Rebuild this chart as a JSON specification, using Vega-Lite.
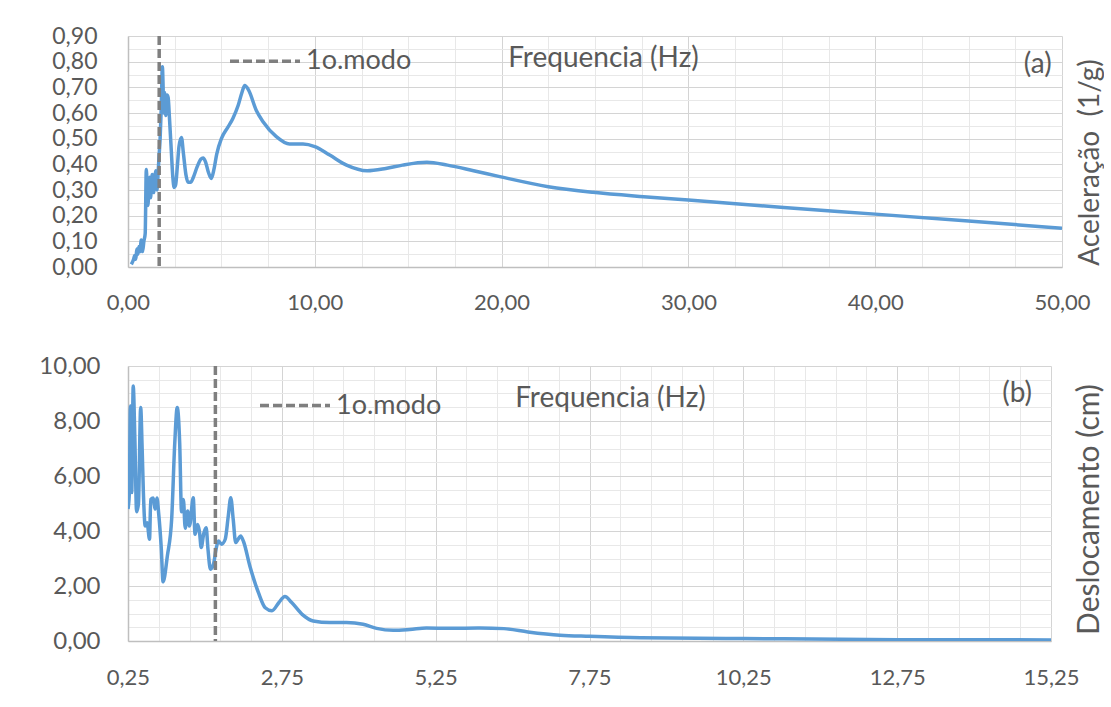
{
  "$schema": "https://vega.github.io/schema/vega-lite/v6.json",
  "background": "white",
  "padding": {"left": 0, "top": 24, "right": 0, "bottom": 0},
  "config": {
    "locale": {"number": {"decimal": ",", "thousands": ".", "grouping": [3], "currency": ["", ""]}},
    "font": "Lato",
    "view": {"stroke": null},
    "axis": {
      "labelColor": "#595959", "titleColor": "#595959", "labelFont": "Lato", "titleFont": "Lato",
      "titleFontWeight": "normal", "ticks": false, "tickSize": 0, "domainColor": "#bfbfbf", "domainWidth": 1.5,
      "gridColor": "#d4d4d4", "gridWidth": 1, "labelOverlap": false, "labelBound": false, "labelFlush": false
    },
    "legend": {"labelFont": "Lato", "labelColor": "#595959"}
  },
  "resolve": {"scale": {"strokeDash": "independent"}, "legend": {"strokeDash": "independent"}},
  "datasets": {
    "acc": [
      {"f": 0.18, "a": 0.01}, {"f": 0.30, "a": 0.03}, {"f": 0.36, "a": 0.045}, {"f": 0.42, "a": 0.03},
      {"f": 0.47, "a": 0.07}, {"f": 0.53, "a": 0.05}, {"f": 0.59, "a": 0.08}, {"f": 0.64, "a": 0.06},
      {"f": 0.71, "a": 0.105}, {"f": 0.78, "a": 0.06}, {"f": 0.85, "a": 0.10}, {"f": 0.92, "a": 0.13},
      {"f": 0.98, "a": 0.38}, {"f": 1.03, "a": 0.30}, {"f": 1.07, "a": 0.24}, {"f": 1.12, "a": 0.33},
      {"f": 1.16, "a": 0.35}, {"f": 1.21, "a": 0.27}, {"f": 1.26, "a": 0.33}, {"f": 1.30, "a": 0.36},
      {"f": 1.37, "a": 0.29}, {"f": 1.43, "a": 0.34}, {"f": 1.48, "a": 0.375}, {"f": 1.55, "a": 0.30},
      {"f": 1.60, "a": 0.35}, {"f": 1.66, "a": 0.43}, {"f": 1.72, "a": 0.50}, {"f": 1.78, "a": 0.62},
      {"f": 1.84, "a": 0.78}, {"f": 1.88, "a": 0.70}, {"f": 1.91, "a": 0.60}, {"f": 1.96, "a": 0.68},
      {"f": 2.02, "a": 0.59}, {"f": 2.09, "a": 0.67}, {"f": 2.15, "a": 0.66}, {"f": 2.22, "a": 0.58},
      {"f": 2.32, "a": 0.45}, {"f": 2.40, "a": 0.35}, {"f": 2.47, "a": 0.31}, {"f": 2.55, "a": 0.32},
      {"f": 2.65, "a": 0.40}, {"f": 2.73, "a": 0.47}, {"f": 2.86, "a": 0.505}, {"f": 2.97, "a": 0.44},
      {"f": 3.10, "a": 0.36}, {"f": 3.22, "a": 0.33}, {"f": 3.35, "a": 0.33}, {"f": 3.50, "a": 0.35},
      {"f": 3.70, "a": 0.39}, {"f": 3.90, "a": 0.42}, {"f": 4.02, "a": 0.425}, {"f": 4.15, "a": 0.41},
      {"f": 4.30, "a": 0.37}, {"f": 4.46, "a": 0.345}, {"f": 4.60, "a": 0.38}, {"f": 4.75, "a": 0.44},
      {"f": 5.00, "a": 0.50}, {"f": 5.35, "a": 0.545}, {"f": 5.62, "a": 0.58}, {"f": 5.90, "a": 0.63},
      {"f": 6.10, "a": 0.68}, {"f": 6.25, "a": 0.707}, {"f": 6.45, "a": 0.69}, {"f": 6.87, "a": 0.61},
      {"f": 7.23, "a": 0.566}, {"f": 7.94, "a": 0.508}, {"f": 8.65, "a": 0.479}, {"f": 9.37, "a": 0.479},
      {"f": 10.0, "a": 0.469}, {"f": 10.8, "a": 0.436}, {"f": 11.7, "a": 0.397}, {"f": 12.8, "a": 0.375},
      {"f": 13.8, "a": 0.384}, {"f": 14.7, "a": 0.397}, {"f": 16.0, "a": 0.408}, {"f": 17.1, "a": 0.397},
      {"f": 18.5, "a": 0.375}, {"f": 19.9, "a": 0.352}, {"f": 22.5, "a": 0.313}, {"f": 24.9, "a": 0.291},
      {"f": 27.6, "a": 0.274}, {"f": 30.0, "a": 0.261}, {"f": 35.1, "a": 0.232}, {"f": 40.0, "a": 0.206},
      {"f": 45.0, "a": 0.179}, {"f": 50.0, "a": 0.151}
    ],
    "disp": [
      {"f": 0.25, "d": 4.8}, {"f": 0.27, "d": 5.3}, {"f": 0.29, "d": 8.55}, {"f": 0.31, "d": 5.4},
      {"f": 0.335, "d": 9.27}, {"f": 0.36, "d": 7.5}, {"f": 0.39, "d": 4.7}, {"f": 0.42, "d": 5.0},
      {"f": 0.456, "d": 8.49}, {"f": 0.48, "d": 7.0}, {"f": 0.50, "d": 5.4}, {"f": 0.53, "d": 4.18},
      {"f": 0.56, "d": 4.3}, {"f": 0.60, "d": 3.7}, {"f": 0.62, "d": 5.15}, {"f": 0.66, "d": 5.2},
      {"f": 0.69, "d": 4.79}, {"f": 0.72, "d": 5.2}, {"f": 0.75, "d": 4.6}, {"f": 0.79, "d": 3.4},
      {"f": 0.82, "d": 2.15}, {"f": 0.89, "d": 3.1}, {"f": 0.96, "d": 4.45}, {"f": 1.01, "d": 7.2},
      {"f": 1.05, "d": 8.49}, {"f": 1.09, "d": 7.2}, {"f": 1.12, "d": 4.7}, {"f": 1.15, "d": 5.15},
      {"f": 1.18, "d": 4.1}, {"f": 1.22, "d": 4.73}, {"f": 1.25, "d": 4.18}, {"f": 1.31, "d": 5.21},
      {"f": 1.34, "d": 3.88}, {"f": 1.38, "d": 4.24}, {"f": 1.41, "d": 4.0}, {"f": 1.44, "d": 3.40},
      {"f": 1.48, "d": 3.9}, {"f": 1.52, "d": 4.12}, {"f": 1.55, "d": 3.33}, {"f": 1.59, "d": 2.61},
      {"f": 1.64, "d": 2.8}, {"f": 1.68, "d": 3.33}, {"f": 1.72, "d": 3.64}, {"f": 1.77, "d": 3.52},
      {"f": 1.83, "d": 3.7}, {"f": 1.88, "d": 4.55}, {"f": 1.92, "d": 5.21}, {"f": 1.96, "d": 4.42},
      {"f": 2.00, "d": 3.58}, {"f": 2.04, "d": 3.7}, {"f": 2.08, "d": 3.82}, {"f": 2.13, "d": 3.6},
      {"f": 2.23, "d": 2.73}, {"f": 2.37, "d": 1.76}, {"f": 2.48, "d": 1.21}, {"f": 2.59, "d": 1.1},
      {"f": 2.70, "d": 1.39}, {"f": 2.80, "d": 1.62}, {"f": 2.91, "d": 1.4}, {"f": 3.08, "d": 0.97},
      {"f": 3.26, "d": 0.73}, {"f": 3.53, "d": 0.67}, {"f": 3.80, "d": 0.67}, {"f": 4.07, "d": 0.61},
      {"f": 4.29, "d": 0.46}, {"f": 4.56, "d": 0.39}, {"f": 4.83, "d": 0.42}, {"f": 5.10, "d": 0.47},
      {"f": 5.48, "d": 0.46}, {"f": 5.97, "d": 0.47}, {"f": 6.36, "d": 0.45}, {"f": 6.75, "d": 0.33},
      {"f": 7.27, "d": 0.21}, {"f": 7.75, "d": 0.17}, {"f": 8.58, "d": 0.12}, {"f": 10.25, "d": 0.09},
      {"f": 12.75, "d": 0.05}, {"f": 15.25, "d": 0.04}
    ],
    "modo": [{"f": 1.67, "serie": "1o.modo"}]
  },
  "columns": 1,
  "align": "none",
  "spacing": 41,
  "concat": [
    {
      "width": 934,
      "height": 231,
      "resolve": {"axis": {"x": "independent", "y": "independent"}},
      "layer": [
        {
          "data": {"name": "acc"},
          "mark": {"type": "line", "color": "#5b9bd5", "strokeWidth": 3.5, "interpolate": "monotone", "clip": true},
          "encoding": {
            "x": {
              "field": "f", "type": "quantitative",
              "scale": {"domain": [0, 50], "nice": false, "zero": false},
              "axis": {
                "orient": "bottom", "values": [0, 10, 20, 30, 40, 50], "format": ".2f",
                "labelFontSize": 22, "labelPadding": 25, "grid": true,
                "title": "Frequencia (Hz)", "titleFontSize": 28, "titleX": 475, "titleY": -200.5,
                "titleAlign": "center", "titleBaseline": "alphabetic", "titleAngle": 0
              }
            },
            "y": {
              "field": "a", "type": "quantitative",
              "scale": {"domain": [0, 0.9], "nice": false},
              "axis": {
                "orient": "left", "values": [0, 0.1, 0.2, 0.3, 0.4, 0.5, 0.6, 0.7, 0.8, 0.9], "format": ".2f",
                "labelFontSize": 23, "labelPadding": 31, "grid": true, "title": null, "minExtent": 125
              }
            }
          }
        },
        {
          "data": {"name": "modo"},
          "mark": {"type": "rule", "strokeWidth": 3.5, "color": "#7f7f7f"},
          "encoding": {
            "x": {
              "field": "f", "type": "quantitative",
              "axis": {
                "orient": "top", "values": [2.5, 5, 7.5, 12.5, 15, 17.5, 22.5, 25, 27.5, 32.5, 35, 37.5, 42.5, 45, 47.5],
                "grid": true, "gridColor": "#e8e8e8", "labels": false, "domain": false, "ticks": false, "title": null
              }
            },
            "strokeDash": {
              "field": "serie", "type": "nominal",
              "scale": {"range": [[9, 4]]},
              "legend": {
                "orient": "none", "legendX": 100, "legendY": -11.8, "title": null, "padding": 0,
                "symbolType": "stroke", "symbolSize": 4900, "symbolStrokeWidth": 3.5, "symbolStrokeColor": "#7f7f7f",
                "labelFontSize": 27, "labelOffset": 4
              }
            }
          }
        },
        {
          "data": {"values": [{"rotulo": "(a)"}]},
          "mark": {"type": "text", "fontSize": 28, "color": "#595959", "font": "Lato"},
          "encoding": {
            "text": {"field": "rotulo"},
            "x": {"datum": 48.7, "type": "quantitative", "axis": null},
            "y": {
              "datum": 0.787, "type": "quantitative",
              "axis": {
                "orient": "right", "values": [0.05, 0.15, 0.25, 0.35, 0.45, 0.55, 0.65, 0.75, 0.85],
                "grid": true, "gridColor": "#e8e8e8", "labels": false, "domain": false, "ticks": false,
                "title": "Aceleração \u00a0(1/g)", "titleFontSize": 28, "titleAngle": 270, "titleBaseline": "top",
                "titleAlign": "center", "titleX": 14, "titleY": 126
              }
            }
          }
        }
      ]
    },
    {
      "width": 923,
      "height": 275,
      "resolve": {"axis": {"x": "independent", "y": "independent"}},
      "layer": [
        {
          "data": {"name": "disp"},
          "mark": {"type": "line", "color": "#5b9bd5", "strokeWidth": 3.5, "interpolate": "monotone", "clip": true},
          "encoding": {
            "x": {
              "field": "f", "type": "quantitative",
              "scale": {"domain": [0.25, 15.25], "nice": false, "zero": false},
              "axis": {
                "orient": "bottom", "values": [0.25, 2.75, 5.25, 7.75, 10.25, 12.75, 15.25], "format": ".2f",
                "labelFontSize": 22, "labelPadding": 26, "grid": true,
                "title": "Frequencia (Hz)", "titleFontSize": 28, "titleX": 482, "titleY": -234.7,
                "titleAlign": "center", "titleBaseline": "alphabetic", "titleAngle": 0
              }
            },
            "y": {
              "field": "d", "type": "quantitative",
              "scale": {"domain": [0, 10], "nice": false},
              "axis": {
                "orient": "left", "values": [0, 2, 4, 6, 8, 10], "format": ".2f",
                "labelFontSize": 24, "labelPadding": 28, "grid": true, "title": null, "minExtent": 128
              }
            }
          }
        },
        {
          "data": {"name": "modo"},
          "mark": {"type": "rule", "strokeWidth": 3.5, "color": "#7f7f7f"},
          "encoding": {
            "x": {
              "field": "f", "type": "quantitative",
              "axis": {
                "orient": "top",
                "values": [0.75, 1.25, 1.75, 2.25, 3.25, 3.75, 4.25, 4.75, 5.75, 6.25, 6.75, 7.25, 8.25, 8.75, 9.25, 9.75, 10.75, 11.25, 11.75, 12.25, 13.25, 13.75, 14.25, 14.75],
                "grid": true, "gridColor": "#e8e8e8", "labels": false, "domain": false, "ticks": false, "title": null
              }
            },
            "strokeDash": {
              "field": "serie", "type": "nominal",
              "scale": {"range": [[9, 4]]},
              "legend": {
                "orient": "none", "legendX": 130, "legendY": 2.5, "title": null, "padding": 0,
                "symbolType": "stroke", "symbolSize": 4900, "symbolStrokeWidth": 3.5, "symbolStrokeColor": "#7f7f7f",
                "labelFontSize": 27, "labelOffset": 4
              }
            }
          }
        },
        {
          "data": {"values": [{"rotulo": "(b)"}]},
          "mark": {"type": "text", "fontSize": 28, "color": "#595959", "font": "Lato"},
          "encoding": {
            "text": {"field": "rotulo"},
            "x": {"datum": 14.7, "type": "quantitative", "axis": null},
            "y": {
              "datum": 9.0, "type": "quantitative",
              "axis": {
                "orient": "right", "values": [0.5, 1, 1.5, 2.5, 3, 3.5, 4.5, 5, 5.5, 6.5, 7, 7.5, 8.5, 9, 9.5],
                "grid": true, "gridColor": "#e8e8e8", "labels": false, "domain": false, "ticks": false,
                "title": "Deslocamento (cm)", "titleFontSize": 30, "titleAngle": 270, "titleBaseline": "top",
                "titleAlign": "center", "titleX": 23, "titleY": 143
              }
            }
          }
        }
      ]
    }
  ]
}
